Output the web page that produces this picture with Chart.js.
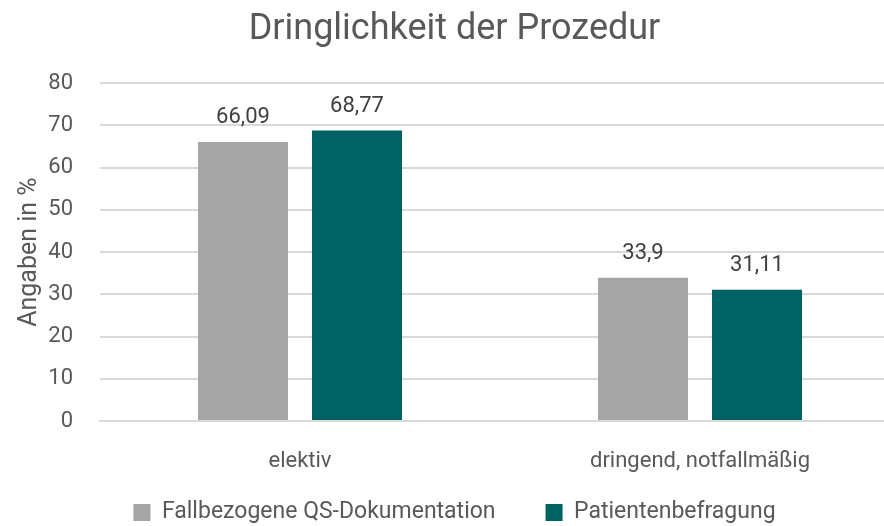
<!DOCTYPE html>
<html>
<head>
<meta charset="utf-8">
<script src="https://cdn.jsdelivr.net/npm/chart.js@4/dist/chart.umd.min.js"></script>
<style>
    html, body { margin: 0; padding: 0; background: #fff; overflow: hidden; }
    #wrap { width: 900px; height: 526px; }
</style>
</head>
<body>
<div id="wrap"><canvas id="chart"></canvas></div>
<script>
// Data
var categories = ['elektiv', 'dringend, notfallmäßig'];
var seriesNames = ['Fallbezogene QS-Dokumentation', 'Patientenbefragung'];
var qsValues = [66.09, 33.9];
var befragungValues = [68.77, 31.11];
var yTicks = [0, 10, 20, 30, 40, 50, 60, 70, 80];

Chart.defaults.font.family = "Roboto, 'Noto Sans', sans-serif";
Chart.defaults.color = '#595959';

/**
 * Value labels above bars (German decimal comma)
 */
var barLabels = {
    id: 'barLabels',
    afterDatasetsDraw: function(chart) {
        var ctx = chart.ctx;
        ctx.save();
        ctx.font = '22px Roboto, sans-serif';
        ctx.fillStyle = '#404040';
        ctx.textAlign = 'center';
        ctx.textBaseline = 'bottom';
        chart.data.datasets.forEach(function(ds, i) {
            chart.getDatasetMeta(i).data.forEach(function(bar, j) {
                var text = String(ds.data[j]).replace('.', ',');
                ctx.fillText(text, bar.x, bar.y - 13);
            });
        });
        ctx.restore();
    }
};

/**
 * Keep wide gaps between legend items without the tall legend box
 */
var compactLegend = {
    id: 'compactLegend',
    afterInit: function(chart) {
        var legend = chart.legend;
        var origFit = legend.fit;
        var origDraw = legend.draw;
        legend.fit = function() {
            origFit.call(this);
            this.height = 51;
        };
        legend.draw = function() {
            this.top -= 22;
            origDraw.call(this);
            this.top += 22;
        };
    }
};

new Chart(document.getElementById('chart'), {
    type: 'bar',
    data: {
        labels: categories,
        datasets: [{
            label: seriesNames[0],
            data: qsValues,
            backgroundColor: '#A5A5A5',
            categoryPercentage: 0.57,
            barPercentage: 0.79
        }, {
            label: seriesNames[1],
            data: befragungValues,
            backgroundColor: '#016264',
            categoryPercentage: 0.57,
            barPercentage: 0.79
        }]
    },
    options: {
        responsive: true,
        maintainAspectRatio: false,
        animation: false,
        layout: {
            padding: { left: 9, right: 0, top: 0, bottom: 2 }
        },
        plugins: {
            title: {
                display: true,
                text: 'Dringlichkeit der Prozedur',
                color: '#595959',
                font: { size: 36, weight: 'normal' },
                padding: { top: 8, bottom: 32 }
            },
            legend: {
                position: 'bottom',
                labels: {
                    color: '#595959',
                    font: { size: 23 },
                    boxWidth: 17,
                    boxHeight: 17,
                    padding: 50
                }
            },
            tooltip: { enabled: false }
        },
        scales: {
            x: {
                grid: { display: false, drawTicks: false },
                border: { color: '#D9D9D9', width: 2 },
                ticks: {
                    color: '#595959',
                    font: { size: 22 },
                    padding: 27
                },
                afterFit: function(axis) {
                    axis.height = 52;
                }
            },
            y: {
                min: 0,
                max: 80,
                afterBuildTicks: function(axis) {
                    axis.ticks = yTicks.map(function(v) { return { value: v }; });
                },
                afterFit: function(axis) {
                    axis.width = 91;
                },
                grid: { color: '#D9D9D9', lineWidth: 2, drawTicks: false },
                border: { display: false },
                ticks: {
                    color: '#595959',
                    font: { size: 22 },
                    padding: 27
                },
                title: {
                    display: true,
                    text: 'Angaben in %',
                    color: '#595959',
                    font: { size: 25 },
                    padding: 6
                }
            }
        }
    },
    plugins: [barLabels, compactLegend]
});
</script>
</body>
</html>
